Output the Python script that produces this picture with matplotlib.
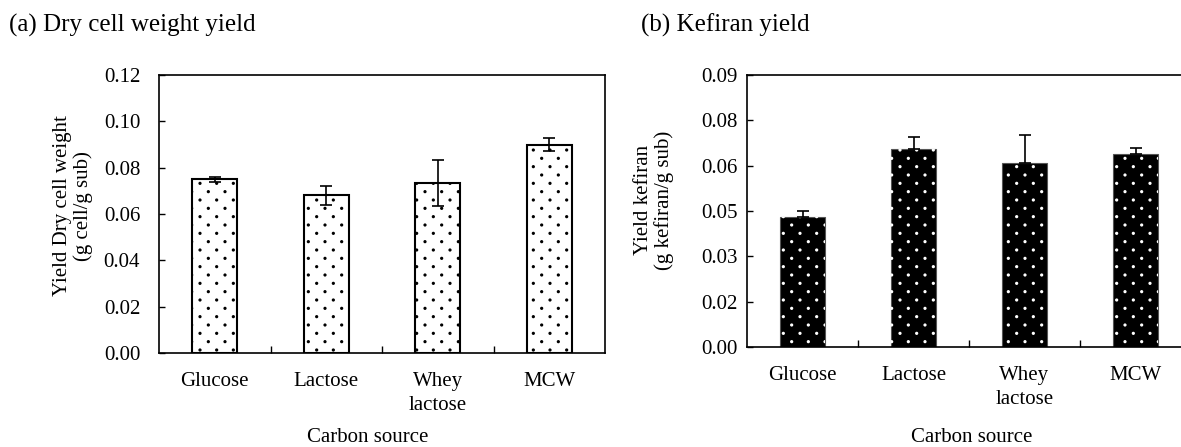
import matplotlib
matplotlib.use("Agg")
import matplotlib.pyplot as plt
import matplotlib.hatch as mhatch
import numpy as np
from matplotlib.path import Path
from matplotlib.ticker import FixedLocator, FixedFormatter

plt.rcParams["font.family"] = ["Liberation Serif", "DejaVu Serif"]
plt.rcParams["font.size"] = 15

# Data
categories = ["Glucose", "Lactose", "Whey\nlactose", "MCW"]
cell_yield = [0.075, 0.068, 0.0735, 0.090]
cell_err = [0.001, 0.004, 0.010, 0.003]
kefiran_yield = [0.043, 0.0655, 0.061, 0.064]
kefiran_err = [0.002, 0.004, 0.009, 0.0018]
cell_ticks = [0.00, 0.02, 0.04, 0.06, 0.08, 0.10, 0.12]
kefiran_ticks = [0.0, 0.015, 0.03, 0.045, 0.06, 0.075, 0.09]
kefiran_ticklabels = ["0.00", "0.02", "0.03", "0.05", "0.06", "0.08", "0.09"]


# Staggered small-dot fill: 12 rows per hatch unit, 6 dots per row
class StaggeredDots(mhatch.HatchPatternBase):
    def __init__(self, hatch, density):
        n = hatch.count(".")
        self.rows = 12 * n
        self.cols = 6 * n
        circle = Path.unit_circle()
        self.shape_vertices = circle.vertices
        self.shape_codes = circle.codes
        count = 0
        for r in range(self.rows + 1):
            count += self.cols + 1 if r % 2 == 0 else self.cols
        self.num_vertices = count * len(circle.vertices) if n else 0

    def set_vertices_and_codes(self, vertices, codes):
        nv = len(self.shape_vertices)
        shape = self.shape_vertices * 0.009
        dx = 1.0 / self.cols
        i = 0
        for r in range(self.rows + 1):
            y = r / self.rows
            if r % 2 == 0:
                xs = np.linspace(0, 1, self.cols + 1)
            else:
                xs = np.linspace(dx / 2, 1 - dx / 2, self.cols)
            for x in xs:
                vertices[i:i + nv] = shape + (x, y)
                codes[i:i + nv] = self.shape_codes
                i += nv


mhatch._hatch_types = [t for t in mhatch._hatch_types
                       if t is not mhatch.SmallFilledCircles] + [StaggeredDots]

x = np.arange(len(categories))
W, H = 1181, 447
fig = plt.figure(figsize=(W / 100, H / 100), dpi=100)
fig.patch.set_facecolor("white")

ax1 = fig.add_axes([159 / W, 1 - 353 / H, 446 / W, 278 / H])
ax2 = fig.add_axes([747 / W, 1 - 347 / H, 444 / W, 272 / H])

# (a) dry cell weight: white bars with black dots
ax1.bar(x, cell_yield, width=0.4, facecolor="white", edgecolor="black",
        linewidth=1.5, hatch=".", zorder=2)
ax1.errorbar(x, cell_yield, yerr=cell_err, fmt="none", ecolor="black",
             elinewidth=1.2, capsize=4, capthick=1.2, zorder=3)
ax1.set_ylim(0, 0.12)
ax1.yaxis.set_major_locator(FixedLocator(cell_ticks))
ax1.yaxis.set_major_formatter(FixedFormatter([f"{v:.2f}" for v in cell_ticks]))
ax1.set_ylabel("Yield Dry cell weight\n(g cell/g sub)", fontsize=15,
               multialignment="center", linespacing=1.1)
ax1.yaxis.set_label_coords(-0.192, 0.53)
ax1.tick_params(axis="y", pad=13.5)

# (b) kefiran: black bars with white dots, upper error only
ax2.bar(x, kefiran_yield, width=0.4, facecolor="black", edgecolor="#555555",
        linewidth=0.8, zorder=2)
ax2.bar(x, kefiran_yield, width=0.4, facecolor="none", edgecolor="white",
        linewidth=0, hatch=".", zorder=2)
ax2.errorbar(x, kefiran_yield, yerr=[[0] * len(x), kefiran_err], fmt="none",
             ecolor="black", elinewidth=1.2, capsize=4, capthick=1.2, zorder=3)
ax2.set_ylim(0, 0.09)
ax2.yaxis.set_major_locator(FixedLocator(kefiran_ticks))
ax2.yaxis.set_major_formatter(FixedFormatter(kefiran_ticklabels))
ax2.set_ylabel("Yield kefiran\n(g kefiran/g sub)", fontsize=15,
               multialignment="center", linespacing=1.1)
ax2.yaxis.set_label_coords(-0.21, 0.54)
ax2.tick_params(axis="y", pad=7)
ax2.spines["right"].set_visible(False)

for ax in (ax1, ax2):
    ax.yaxis.label.set_va("center")
    ax.set_xlim(-0.5, len(categories) - 0.5)
    ax.set_xticks(x)
    ax.set_xticklabels(categories, linespacing=1.3)
    ax.set_xticks(x[:-1] + 0.5, minor=True)
    ax.tick_params(axis="x", which="major", length=0, pad=14)
    ax.tick_params(axis="x", which="minor", direction="in", length=5, width=1)
    ax.tick_params(axis="y", direction="in", length=4.5, width=1)
    ax.tick_params(labelsize=15)
    for s in ax.spines.values():
        s.set_linewidth(1.2)
    ax.set_xlabel("Carbon source", fontsize=15)

ax1.xaxis.set_label_coords(0.469, -0.27)
ax2.xaxis.set_label_coords(0.507, -0.298)

fig.text(9 / W, 1 - 31.5 / H, "(a) Dry cell weight yield", fontsize=18,
         ha="left", va="baseline")
fig.text(641 / W, 1 - 31.5 / H, "(b) Kefiran yield", fontsize=18,
         ha="left", va="baseline")

fig.savefig("out.png", dpi=100)
